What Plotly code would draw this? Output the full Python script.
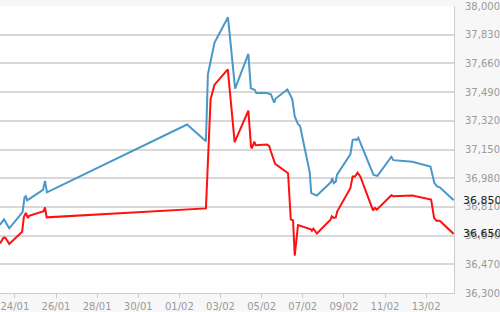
import plotly.graph_objects as go

blue_time = [
    "2014-01-23 06:36", "2014-01-23 11:15", "2014-01-23 17:24", "2014-01-24 08:56", "2014-01-24 11:15",
    "2014-01-24 12:45", "2014-01-24 14:15", "2014-01-25 08:48", "2014-01-25 11:08", "2014-01-25 13:26",
    "2014-02-01 08:56", "2014-02-02 06:58", "2014-02-02 09:16", "2014-02-02 12:25", "2014-02-02 17:02",
    "2014-02-03 08:41", "2014-02-03 17:02", "2014-02-04 08:28", "2014-02-04 11:21", "2014-02-04 16:00",
    "2014-02-04 17:44", "2014-02-05 05:41", "2014-02-05 10:46", "2014-02-05 14:37", "2014-02-05 16:21",
    "2014-02-06 06:01", "2014-02-06 09:10", "2014-02-06 11:43", "2014-02-06 14:37", "2014-02-06 18:26",
    "2014-02-06 20:46", "2014-02-07 06:01", "2014-02-07 08:07", "2014-02-07 09:52", "2014-02-07 14:08",
    "2014-02-07 16:28", "2014-02-08 09:03", "2014-02-08 10:12", "2014-02-08 12:10", "2014-02-08 14:30",
    "2014-02-08 16:00", "2014-02-09 07:32", "2014-02-09 10:12", "2014-02-09 12:52", "2014-02-09 14:30",
    "2014-02-09 16:48", "2014-02-09 19:08", "2014-02-10 07:25", "2014-02-10 10:34", "2014-02-10 15:11",
    "2014-02-11 07:25", "2014-02-11 09:44", "2014-02-12 07:46", "2014-02-13 05:00", "2014-02-13 09:37",
    "2014-02-13 12:45", "2014-02-13 15:53", "2014-02-14 08:07",
]
blue_value = [
    36704, 36736, 36683, 36779, 36867,
    36873, 36849, 36911, 36964, 36896,
    37298, 37199, 37596, 37678, 37783,
    37933, 37511, 37716, 37513, 37503,
    37484, 37484, 37477, 37428, 37452,
    37505, 37470, 37449, 37346, 37300,
    37291, 37074, 37015, 36892, 36883,
    36877, 36957, 36980, 36951, 36960,
    37001, 37121, 37206, 37210, 37205,
    37219, 37191, 37043, 36999, 36994,
    37107, 37087, 37078, 37049, 36951,
    36931, 36926, 36850,
]

red_time = [
    "2014-01-23 06:36", "2014-01-23 10:39", "2014-01-23 12:45", "2014-01-23 17:24", "2014-01-24 08:28",
    "2014-01-24 10:26", "2014-01-24 12:45", "2014-01-24 15:04", "2014-01-24 16:35", "2014-01-25 09:37",
    "2014-01-25 11:08", "2014-01-25 13:06", "2014-02-02 06:58", "2014-02-02 09:16", "2014-02-02 12:25",
    "2014-02-02 17:02", "2014-02-03 08:28", "2014-02-03 16:28", "2014-02-04 08:28", "2014-02-04 11:35",
    "2014-02-04 12:32", "2014-02-04 15:26", "2014-02-04 16:55", "2014-02-05 05:54", "2014-02-05 08:48",
    "2014-02-05 10:46", "2014-02-05 15:46", "2014-02-06 06:50", "2014-02-06 09:58", "2014-02-06 12:39",
    "2014-02-06 14:37", "2014-02-06 18:26", "2014-02-07 09:30", "2014-02-07 10:39", "2014-02-07 12:25",
    "2014-02-07 16:28", "2014-02-08 08:21", "2014-02-08 09:52", "2014-02-08 12:10", "2014-02-08 14:30",
    "2014-02-08 16:13", "2014-02-09 07:32", "2014-02-09 10:12", "2014-02-09 12:52", "2014-02-09 16:00",
    "2014-02-09 19:08", "2014-02-10 09:58", "2014-02-10 12:03", "2014-02-10 14:23", "2014-02-11 07:25",
    "2014-02-11 09:44", "2014-02-12 07:46", "2014-02-13 05:48", "2014-02-13 09:16", "2014-02-13 11:57",
    "2014-02-13 15:53", "2014-02-14 08:07",
]
red_value = [
    36593, 36628, 36628, 36591, 36663,
    36750, 36775, 36745, 36757, 36785,
    36807, 36748, 36801, 37097, 37449,
    37534, 37625, 37194, 37380, 37168,
    37156, 37197, 37175, 37179, 37171,
    37138, 37065, 37009, 36736, 36730,
    36521, 36702, 36677, 36669, 36681,
    36652, 36734, 36754, 36745, 36748,
    36784, 36921, 36990, 36990, 37012,
    36990, 36790, 36804, 36794, 36879,
    36873, 36877, 36853, 36745, 36728,
    36728, 36650,
]

y_ticks = [36300, 36470, 36640, 36810, 36980, 37150, 37320, 37490, 37660, 37830, 38000]
x_range = ["2014-01-23 06:36", "2014-02-14 08:30"]
last_labels = ["36,850", "36,650"]

FONT = "DejaVu Sans"
fig = go.Figure()
fig.add_trace(go.Scatter(x=blue_time, y=blue_value, mode="lines",
                         line=dict(color="#4a97c9", width=2), hoverinfo="skip"))
fig.add_trace(go.Scatter(x=red_time, y=red_value, mode="lines",
                         line=dict(color="#ff1010", width=2), hoverinfo="skip"))

for val, txt in zip([blue_value[-1], red_value[-1]], last_labels):
    fig.add_annotation(x=1, xref="paper", y=val, yref="y", text=txt, showarrow=False,
                       xanchor="left", yanchor="middle", xshift=7,
                       font=dict(family=FONT, size=11, color="#222222"))

fig.update_layout(
    width=500, height=312,
    margin=dict(l=0, r=43, t=6, b=16),
    paper_bgcolor="#f7f7f7", plot_bgcolor="#ffffff",
    showlegend=False,
    font=dict(family=FONT, size=10, color="#9a9a9a"),
)
fig.update_xaxes(
    type="date", range=x_range, tickformat="%d/%m",
    dtick=2 * 86400000, tick0="2014-01-24",
    showgrid=False, showline=True, linecolor="#cccccc", linewidth=1,
    ticks="outside", ticklen=4, tickcolor="#cccccc",
    tickfont=dict(family=FONT, size=10, color="#9a9a9a"),
)
fig.update_yaxes(
    side="right", range=[36300, 38000], tickvals=y_ticks,
    tickformat=",d", showgrid=True, gridcolor="#d8d8d8", gridwidth=1.5,
    showline=True, linecolor="#cccccc", linewidth=1, ticks="",
    ticklabelstandoff=8, zeroline=False,
    tickfont=dict(family=FONT, size=10, color="#9a9a9a"),
)

fig.write_html("out.html")
